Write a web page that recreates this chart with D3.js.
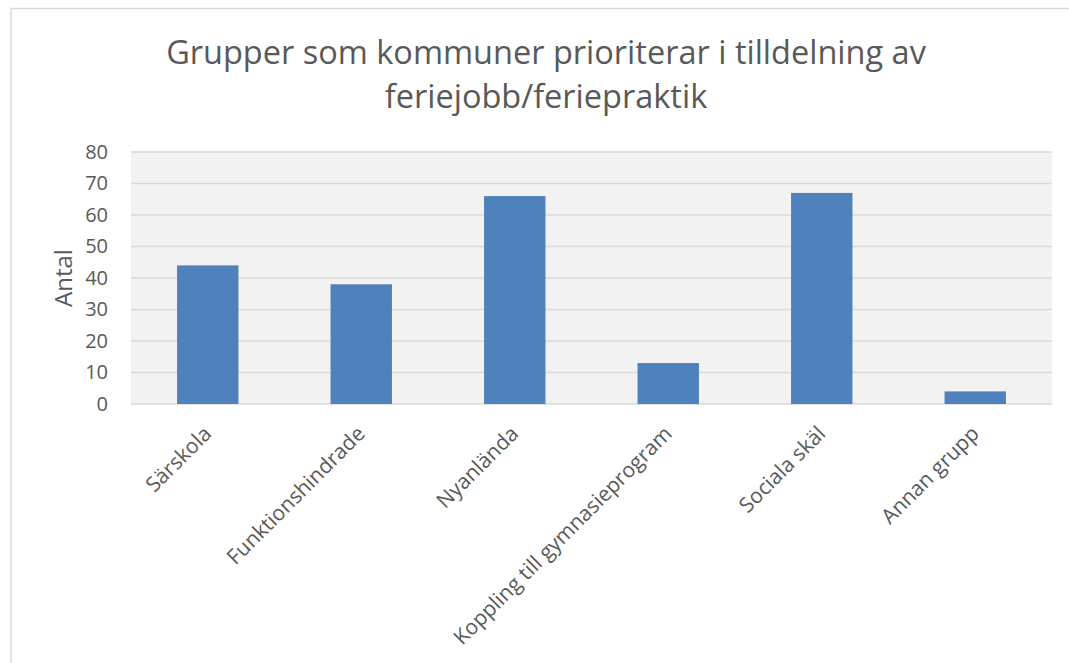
<!DOCTYPE html>
<html>
<head>
<meta charset="utf-8">
<script src="https://d3js.org/d3.v7.min.js"></script>
<style>
  body { margin: 0; background: #fff; }
  text { font-family: "Open Sans", sans-serif; fill: #595959; }
</style>
</head>
<body>
<script>
// data
var categories = ["Särskola", "Funktionshindrade", "Nyanlända", "Koppling till gymnasieprogram", "Sociala skäl", "Annan grupp"];
var values = [44, 38, 66, 13, 67, 4];
var yTicks = [0, 10, 20, 30, 40, 50, 60, 70, 80];
var titleLines = ["Grupper som kommuner prioriterar i tilldelning av", "feriejobb/feriepraktik"];

var width = 1069, height = 663;
var plot = { left: 131, top: 152, right: 1052, bottom: 404 };

var svg = d3.select("body").append("svg")
  .attr("width", width)
  .attr("height", height);

// chart frame
svg.append("rect")
  .attr("x", 11).attr("y", 8.5)
  .attr("width", width + 20).attr("height", height + 20)
  .attr("fill", "#fff")
  .attr("stroke", "#d9d9d9")
  .attr("stroke-width", 1.5);

var x = d3.scaleBand()
  .domain(categories)
  .range([plot.left, plot.right])
  .paddingInner(0.6)
  .paddingOuter(0.3);

var y = d3.scaleLinear()
  .domain([0, 80])
  .range([plot.bottom, plot.top]);

// plot background
svg.append("rect")
  .attr("x", plot.left).attr("y", plot.top)
  .attr("width", plot.right - plot.left)
  .attr("height", plot.bottom - plot.top)
  .attr("fill", "#f2f2f2");

// gridlines
svg.append("g").selectAll("line")
  .data(yTicks)
  .join("line")
  .attr("x1", plot.left).attr("x2", plot.right)
  .attr("y1", function(d){ return y(d); })
  .attr("y2", function(d){ return y(d); })
  .attr("stroke", "#d9d9d9")
  .attr("stroke-width", 1.5);

// bars
svg.append("g").selectAll("rect")
  .data(values)
  .join("rect")
  .attr("x", function(d, i){ return x(categories[i]); })
  .attr("y", function(d){ return y(d); })
  .attr("width", x.bandwidth())
  .attr("height", function(d){ return y(0) - y(d); })
  .attr("fill", "#4f81bd");

// y axis labels
var yAxis = svg.append("g")
  .attr("transform", "translate(" + (plot.left - 23) + ",0)")
  .call(d3.axisLeft(y).tickValues(yTicks).tickSize(0).tickPadding(0));
yAxis.select(".domain").remove();
yAxis.selectAll("text")
  .attr("font-size", 20)
  .attr("font-family", "Open Sans, sans-serif")
  .attr("fill", "#595959");

// x axis labels
var xAxis = svg.append("g")
  .attr("transform", "translate(0," + plot.bottom + ")")
  .call(d3.axisBottom(x).tickSize(0).tickPadding(0));
xAxis.select(".domain").remove();
xAxis.selectAll("text")
  .attr("font-size", 21)
  .attr("font-family", "Open Sans, sans-serif")
  .attr("fill", "#595959")
  .attr("text-anchor", "end")
  .attr("dy", 0)
  .attr("y", 0)
  .attr("transform", "translate(5,31) rotate(-45)");

// y axis title
svg.append("text")
  .attr("transform", "translate(72," + ((plot.top + plot.bottom) / 2) + ") rotate(-90)")
  .attr("text-anchor", "middle")
  .attr("font-size", 24)
  .text("Antal");

// title
svg.append("g").selectAll("text")
  .data(titleLines)
  .join("text")
  .attr("x", 546)
  .attr("y", function(d, i){ return 64 + i * 44; })
  .attr("text-anchor", "middle")
  .attr("font-size", 32.5)
  .text(function(d){ return d; });
</script>
</body>
</html>
